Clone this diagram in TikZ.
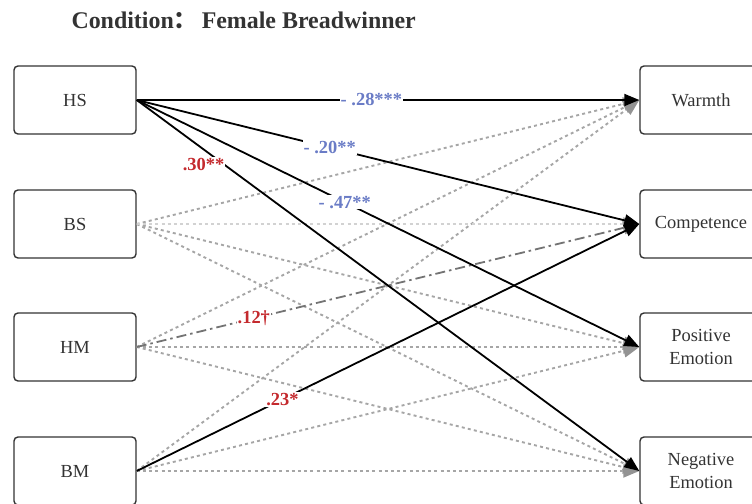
\documentclass[tikz,border=0pt]{standalone}
\usepackage{fontspec}
\setmainfont{Liberation Serif}
\newfontfamily\cjk{Noto Sans CJK SC}
\usetikzlibrary{arrows.meta}
\definecolor{coefblue}{HTML}{6A7CC6}
\definecolor{coefred}{HTML}{C42A2E}
\definecolor{boxline}{HTML}{333333}
\tikzset{
    var/.style={draw=boxline,line width=1.4bp,rounded corners=4bp,minimum width=122bp,
        minimum height=68bp,align=center,font=\fontsize{18.5}{23}\selectfont,text=boxline},
    sig/.style={draw=black,line width=1.8bp,-{Triangle[length=15bp,width=12bp]}},
    ns/.style={draw=gray!70,line width=1.9bp,dash pattern=on 3bp off 3.2bp,
        -{Triangle[length=16bp,width=13bp,color=gray!85]}},
    nslight/.style={ns,draw=gray!35},
    marg/.style={draw=black!55,line width=1.8bp,dash pattern=on 10bp off 4bp on 2.5bp off 4bp,
        -{Triangle[length=16bp,width=13bp,color=gray!85]}},
    coef/.style={fill=white,inner sep=1bp,font=\bfseries\fontsize{18.5}{21}\selectfont},
}

\begin{document}
\begin{tikzpicture}[x=1bp,y=-1bp]
\useasboundingbox (0,0) rectangle (752,504);
\node[anchor=west,font=\bfseries\fontsize{24}{27}\selectfont,text=boxline] (title) at (68,20)
    {Condition{\cjk ：}\hspace{4bp}Female Breadwinner};

% predictors
\node[var] (hs) at (75,100) {HS};
\node[var] (bs) at (75,224) {BS};
\node[var] (hm) at (75,347) {HM};
\node[var] (bm) at (75,471) {BM};
% outcomes
\node[var] (warmth) at (701,100) {Warmth};
\node[var] (comp)   at (701,224) {Competence};
\node[var] (posemo) at (701,347) {Positive\\Emotion};
\node[var] (negemo) at (701,471) {Negative\\Emotion};

% non-significant paths
\foreach \src in {bs,hm,bm}{
    \draw[ns] (\src.east) -- (warmth.west);
    \draw[ns] (\src.east) -- (posemo.west);
    \draw[ns] (\src.east) -- (negemo.west);
}
\draw[nslight] (bs.east) -- (comp.west);

% significant paths
\draw[marg] (hm.east) -- node[coef,text=coefred,pos=0.233] {.12\textdagger} (comp.west);
\draw[sig] (bm.east) -- node[coef,text=coefred,pos=0.29] {.23*} (comp.west);
\draw[sig] (hs.east) -- node[coef,text=coefred,pos=0.133,yshift=-15bp] {.30**} (negemo.west);
\draw[sig] (hs.east) -- node[coef,text=coefblue,pos=0.414] {- .47**} (posemo.west);
\draw[sig] (hs.east) -- node[coef,text=coefblue,pos=0.384] {- .20**} (comp.west);
\draw[sig] (hs.east) -- node[coef,text=coefblue,pos=0.467] {- .28***} (warmth.west);
\end{tikzpicture}
\end{document}
